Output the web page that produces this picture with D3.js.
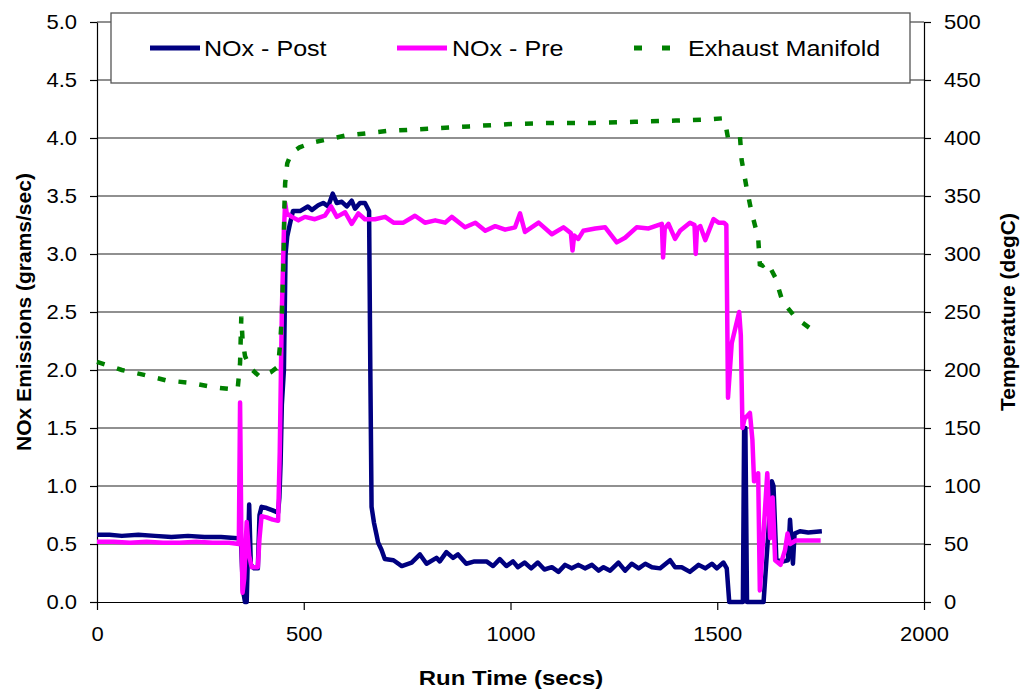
<!DOCTYPE html>
<html>
<head>
<meta charset="utf-8">
<script src="https://cdn.jsdelivr.net/npm/d3@7"></script>
<style>
  body { margin: 0; background: #fff; }
  svg { font-family: "Liberation Sans", Arial, sans-serif; }
</style>
</head>
<body>
<svg id="chart" width="1024" height="690"></svg>
<script>
// NOx after the catalyst (grams/sec)
var postTime = [0, 30, 60, 100, 140, 180, 220, 260, 300, 340, 348, 353, 358, 362, 368, 372, 380, 389, 393, 398, 410, 425, 438, 441, 444, 447, 452, 456, 460, 466, 474, 491, 510, 520, 535, 547, 559, 570, 580, 592, 604, 616, 624, 636, 648, 658, 661, 664, 670, 676, 680, 688, 696, 717, 737, 761, 781, 797, 821, 829, 845, 861, 873, 893, 913, 942, 958, 974, 990, 1006, 1018, 1034, 1050, 1066, 1082, 1100, 1116, 1132, 1148, 1164, 1180, 1197, 1213, 1225, 1241, 1261, 1277, 1293, 1310, 1326, 1342, 1362, 1386, 1398, 1414, 1434, 1455, 1471, 1487, 1499, 1515, 1523, 1529, 1562, 1565, 1568, 1572, 1605, 1612, 1632, 1636, 1643, 1660, 1671, 1676, 1683, 1687, 1700, 1720, 1753];
var postNox = [0.58, 0.58, 0.57, 0.58, 0.57, 0.56, 0.57, 0.56, 0.56, 0.55, 0.54, 0.1, 0.0, 0.0, 0.84, 0.32, 0.29, 0.29, 0.75, 0.82, 0.81, 0.79, 0.77, 0.9, 1.2, 1.7, 2.0, 3.0, 3.15, 3.25, 3.37, 3.37, 3.41, 3.38, 3.42, 3.44, 3.41, 3.52, 3.44, 3.45, 3.41, 3.46, 3.39, 3.44, 3.44, 3.37, 2.0, 0.82, 0.68, 0.58, 0.51, 0.45, 0.37, 0.36, 0.31, 0.34, 0.41, 0.33, 0.38, 0.35, 0.43, 0.38, 0.41, 0.33, 0.35, 0.35, 0.31, 0.37, 0.31, 0.35, 0.30, 0.34, 0.29, 0.34, 0.28, 0.30, 0.26, 0.32, 0.29, 0.32, 0.29, 0.32, 0.27, 0.30, 0.27, 0.34, 0.27, 0.33, 0.29, 0.33, 0.30, 0.29, 0.36, 0.30, 0.30, 0.26, 0.32, 0.29, 0.33, 0.29, 0.34, 0.29, 0.0, 0.0, 1.5, 1.5, 0.0, 0.0, 0.0, 1.04, 1.0, 0.36, 0.35, 0.36, 0.71, 0.33, 0.59, 0.61, 0.60, 0.61];

// NOx before the catalyst (grams/sec)
var preTime = [0, 40, 80, 120, 160, 200, 240, 280, 320, 343, 346, 349, 352, 356, 362, 368, 374, 389, 393, 398, 410, 425, 438, 442, 447, 452, 455, 459, 471, 487, 503, 527, 551, 566, 580, 600, 616, 632, 648, 672, 697, 717, 741, 769, 793, 818, 842, 858, 890, 915, 939, 963, 987, 1011, 1023, 1035, 1068, 1100, 1128, 1146, 1150, 1154, 1164, 1176, 1205, 1229, 1257, 1277, 1305, 1334, 1366, 1369, 1373, 1382, 1398, 1410, 1434, 1445, 1448, 1451, 1459, 1471, 1491, 1503, 1516, 1522, 1526, 1535, 1553, 1557, 1561, 1566, 1579, 1585, 1589, 1599, 1603, 1612, 1621, 1628, 1634, 1640, 1653, 1664, 1670, 1676, 1690, 1720, 1750];
var preNox = [0.52, 0.52, 0.51, 0.52, 0.51, 0.51, 0.52, 0.51, 0.51, 0.50, 1.72, 0.6, 0.08, 0.2, 0.69, 0.40, 0.30, 0.30, 0.55, 0.74, 0.73, 0.71, 0.70, 1.3, 2.5, 3.2, 3.44, 3.35, 3.32, 3.29, 3.32, 3.30, 3.33, 3.41, 3.32, 3.36, 3.26, 3.35, 3.30, 3.30, 3.32, 3.27, 3.27, 3.33, 3.27, 3.29, 3.27, 3.32, 3.23, 3.27, 3.20, 3.24, 3.21, 3.23, 3.35, 3.19, 3.27, 3.17, 3.23, 3.18, 3.03, 3.16, 3.13, 3.20, 3.22, 3.23, 3.10, 3.14, 3.23, 3.22, 3.26, 2.97, 3.22, 3.26, 3.13, 3.20, 3.27, 3.25, 3.00, 3.22, 3.24, 3.12, 3.30, 3.27, 3.27, 3.25, 1.76, 2.23, 2.50, 2.3, 1.5, 1.58, 1.63, 1.4, 1.04, 1.11, 0.10, 0.6, 1.11, 0.55, 0.9, 0.36, 0.32, 0.45, 0.59, 0.50, 0.53, 0.53, 0.53];

// exhaust manifold temperature (degC)
var exhTime = [0, 60, 111, 168, 225, 285, 340, 346, 349, 352, 358, 370, 394, 420, 438, 443, 447, 449, 451, 452, 453, 455, 460, 470, 490, 520, 560, 600, 650, 700, 750, 800, 900, 1000, 1100, 1200, 1300, 1400, 1480, 1514, 1520, 1526, 1540, 1555, 1559, 1571, 1583, 1599, 1603, 1610, 1621, 1640, 1658, 1690, 1732, 1748];
var exhTemp = [207, 200, 196, 191, 189, 185, 183, 206, 246, 226, 212, 202, 194, 198, 203, 223, 246, 271, 293, 315, 338, 361, 378, 387, 392, 396, 399, 402, 404, 406, 407, 408, 410, 412, 413, 413, 414, 415, 416, 417, 412, 400, 401, 401, 381, 357, 336, 314, 291, 290, 293, 280, 259, 245, 234, 232];

var xTicks = [0, 500, 1000, 1500, 2000];
var yTicks = [0, 0.5, 1, 1.5, 2, 2.5, 3, 3.5, 4, 4.5, 5];
var tTicks = [0, 50, 100, 150, 200, 250, 300, 350, 400, 450, 500];

var seriesNames = ["NOx - Post", "NOx - Pre", "Exhaust Manifold"];
var seriesColors = ["#000080", "#ff00ff", "#008000"];

var svg = d3.select("#chart");
var plotL = 97, plotR = 924, plotT = 22, plotB = 602;
var stretch = 1.14; // the original picture is a bit wider than tall
var tickStretch = 1.1;

var x = d3.scaleLinear().domain([0, 2000]).range([plotL, plotR]);
var y = d3.scaleLinear().domain([0, 5]).range([plotB, plotT]);
var yT = d3.scaleLinear().domain([0, 500]).range([plotB, plotT]);

// horizontal gridlines
svg.append("g").selectAll("line")
  .data(yTicks.slice(1))
  .enter().append("line")
  .attr("x1", plotL).attr("x2", plotR)
  .attr("y1", function(d) { return y(d); })
  .attr("y2", function(d) { return y(d); })
  .attr("stroke", "#222").attr("stroke-width", 1.2);

function styleAxis(g) {
  g.selectAll("path, line").attr("stroke", "#000").attr("stroke-width", 1.2);
  g.selectAll("text").attr("font-size", 20).attr("fill", "#000")
    .attr("font-family", "'Liberation Sans', Arial, sans-serif")
    .each(function() {
      // widen the labels a little without moving them
      var t = d3.select(this);
      t.attr("x", (+t.attr("x") || 0) / tickStretch)
       .attr("transform", "scale(" + tickStretch + ",1)");
    });
}

svg.append("g")
  .attr("transform", "translate(0," + plotB + ")")
  .call(d3.axisBottom(x).tickValues(xTicks).tickFormat(d3.format("d")).tickSize(8).tickSizeOuter(0).tickPadding(17))
  .call(styleAxis);

svg.append("g")
  .attr("transform", "translate(" + plotL + ",0)")
  .call(d3.axisLeft(y).tickValues(yTicks).tickFormat(d3.format(".1f")).tickSize(7).tickSizeOuter(0).tickPadding(13))
  .call(styleAxis);

svg.append("g")
  .attr("transform", "translate(" + plotR + ",0)")
  .call(d3.axisRight(yT).tickValues(tTicks).tickFormat(d3.format("d")).tickSize(7).tickSizeOuter(0).tickPadding(13))
  .call(styleAxis);

// data lines
var noxLine = d3.line()
  .x(function(d) { return x(d[0]); })
  .y(function(d) { return y(d[1]); });
var tempLine = d3.line()
  .x(function(d) { return x(d[0]); })
  .y(function(d) { return yT(d[1]); });

var plot = svg.append("g");
plot.append("path")
  .datum(d3.zip(postTime, postNox))
  .attr("d", noxLine)
  .attr("fill", "none").attr("stroke", seriesColors[0])
  .attr("stroke-width", 4.5).attr("stroke-linejoin", "round");
plot.append("path")
  .datum(d3.zip(preTime, preNox))
  .attr("d", noxLine)
  .attr("fill", "none").attr("stroke", seriesColors[1])
  .attr("stroke-width", 4.5).attr("stroke-linejoin", "round");
plot.append("path")
  .datum(d3.zip(exhTime, exhTemp))
  .attr("d", tempLine)
  .attr("fill", "none").attr("stroke", seriesColors[2])
  .attr("stroke-width", 4.5).attr("stroke-dasharray", "8,13");

// legend
var legend = svg.append("g");
legend.append("rect")
  .attr("x", 111).attr("y", 13).attr("width", 799).attr("height", 70)
  .attr("fill", "#fff").attr("stroke", "#555").attr("stroke-width", 1.3);
var legendX = [150, 397, 634];
var legendTextX = [204, 452, 688];
seriesNames.forEach(function(name, i) {
  legend.append("line")
    .attr("x1", legendX[i]).attr("x2", i == 2 ? legendX[i] + 38 : legendX[i] + 50)
    .attr("y1", 48).attr("y2", 48)
    .attr("stroke", seriesColors[i])
    .attr("stroke-width", 5)
    .attr("stroke-dasharray", i == 2 ? "8,20" : null);
  legend.append("text")
    .attr("transform", "translate(" + legendTextX[i] + ",56) scale(" + stretch + ",1)")
    .attr("font-size", 22)
    .text(name);
});

// axis titles
svg.append("text")
  .attr("transform", "translate(511,685) scale(" + stretch + ",1)")
  .attr("text-anchor", "middle")
  .attr("font-size", 21).attr("font-weight", "bold")
  .text("Run Time (secs)");
svg.append("text")
  .attr("transform", "translate(31,312) rotate(-90)")
  .attr("text-anchor", "middle")
  .attr("font-size", 21).attr("font-weight", "bold")
  .text("NOx Emissions (grams/sec)");
svg.append("text")
  .attr("transform", "translate(1015,312) rotate(-90)")
  .attr("text-anchor", "middle")
  .attr("font-size", 21).attr("font-weight", "bold")
  .text("Temperature (degC)");
</script>
</body>
</html>
